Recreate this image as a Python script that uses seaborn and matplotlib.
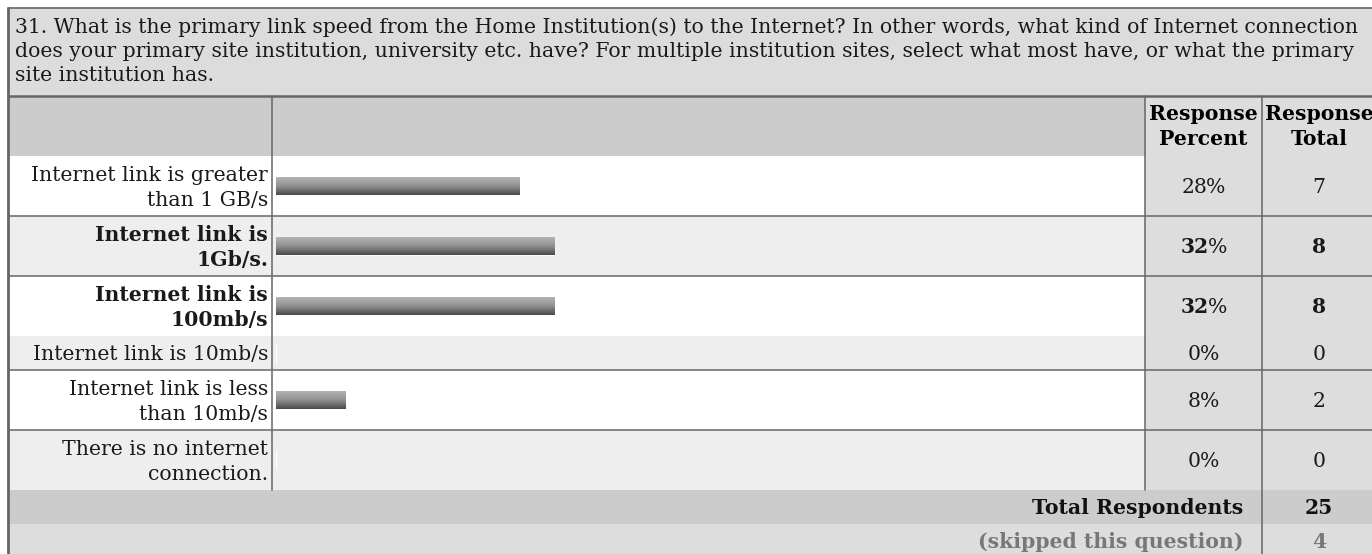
import numpy as np
import pandas as pd
import seaborn as sns
import matplotlib.pyplot as plt
from matplotlib.colors import LinearSegmentedColormap

# data
question = [
    "31. What is the primary link speed from the Home Institution(s) to the Internet? In other words, what kind of Internet connection",
    "does your primary site institution, university etc. have? For multiple institution sites, select what most have, or what the primary",
    "site institution has.",
]
answers = [
    ["Internet link is greater", "than 1 GB/s"],
    ["Internet link is", "1Gb/s."],
    ["Internet link is", "100mb/s"],
    ["Internet link is 10mb/s"],
    ["Internet link is less", "than 10mb/s"],
    ["There is no internet", "connection."],
]
percents = [28, 32, 32, 0, 8, 0]
totals = [7, 8, 8, 0, 2, 0]
bold_rows = [False, True, True, False, False, False]
answered = 25
skipped = 4

W, H = 1372, 554
sns.set_theme(style="white")
plt.rcParams["font.family"] = ["DejaVu Serif"]
FS = 14.7

fig = plt.figure(figsize=(W / 100, H / 100), dpi=100)
ax = fig.add_axes([0, 0, 1, 1])
ax.set_xlim(0, W)
ax.set_ylim(H, 0)
ax.axis("off")

LINE = "#666666"
TXT = "#1a1a1a"
left, top = 8, 8
title_bot = 96
head_bot = 156
col_bar0, col_pct, col_tot = 272, 1145, 1262
pct_c, tot_c = (col_pct + col_tot) / 2, 1319
lab_x = 268

# row layout from number of label lines
heights = [60 if len(a) == 2 else 34 for a in answers]
edges = head_bot + np.concatenate([[0], np.cumsum(heights)])
centers = (edges[:-1] + edges[1:]) / 2
rows_bot = edges[-1]
tot_bot = rows_bot + 34


def rect(x0, y0, x1, y1, color):
    ax.add_patch(plt.Rectangle((x0, y0), x1 - x0, y1 - y0, color=color, lw=0, zorder=0))


# backgrounds
rect(left, top, W, title_bot, "#dcdcdc")
rect(left, title_bot, col_pct, head_bot, "#cccccc")
rect(col_pct, title_bot, W, rows_bot, "#dddddd")
for i in range(len(answers)):
    rect(left, edges[i], col_pct, edges[i + 1], "#ffffff" if i % 2 == 0 else "#eeeeee")
rect(left, rows_bot, W, tot_bot, "#cccccc")
rect(left, tot_bot, W, H, "#dddddd")

# lines
ax.plot([left, W], [top, top], color=LINE, lw=1.2)
ax.plot([left, left], [top, H], color=LINE, lw=2)
ax.plot([left, W], [title_bot, title_bot], color=LINE, lw=1.8)
for x in (col_bar0, col_pct):
    ax.plot([x, x], [title_bot, rows_bot], color=LINE, lw=1.1)
ax.plot([col_tot, col_tot], [title_bot, H], color=LINE, lw=1.1)
for i in (0, 1, 3, 4):
    ax.plot([left, W], [edges[i + 1], edges[i + 1]], color=LINE, lw=1.1)

# title
for k, line in enumerate(question):
    ax.text(15, 33 + 24 * k, line, fontsize=FS, color=TXT, va="baseline", ha="left")


def lines_at(x, c, lines, **kw):
    n = len(lines)
    for k, s in enumerate(lines):
        y = c + 7 if n == 1 else c - 5 + 25 * k
        ax.text(x, y, s, fontsize=FS, va="baseline", **kw)


head_c = (title_bot + head_bot) / 2
lines_at(pct_c, head_c - 1, ["Response", "Percent"], ha="center", weight="bold", color="#000")
lines_at(tot_c, head_c - 1, ["Response", "Total"], ha="center", weight="bold", color="#000")

renderer = fig.canvas.get_renderer()


def width_of(s, weight):
    t = ax.text(0, 0, s, fontsize=FS, weight=weight)
    w = t.get_window_extent(renderer).width
    t.remove()
    return w


for i, lab in enumerate(answers):
    wt = "bold" if bold_rows[i] else "normal"
    lines_at(lab_x, centers[i], lab, ha="right", weight=wt, color=TXT)
    num = str(percents[i])
    wn, wp = width_of(num, wt), width_of("%", "normal")
    split = pct_c - (wn + wp) / 2 + wn
    ax.text(split + 0.5, centers[i] + 7, num, fontsize=FS, weight=wt, ha="right", va="baseline", color=TXT)
    ax.text(split - 0.5, centers[i] + 7, "%", fontsize=FS, ha="left", va="baseline", color=TXT)
    ax.text(tot_c, centers[i] + 7, str(totals[i]), fontsize=FS, weight=wt, ha="center",
            va="baseline", color=TXT)

tc = (rows_bot + tot_bot) / 2
sc = (tot_bot + H + 6) / 2
ax.text(1243, tc + 7, "Total Respondents", fontsize=FS, weight="bold", ha="right", va="baseline", color="#111")
ax.text(tot_c, tc + 7, str(answered), fontsize=FS, weight="bold", ha="center", va="baseline", color="#111")
ax.text(1243, sc + 6, "(skipped this question)", fontsize=FS, weight="bold", ha="right", va="baseline", color="#777777")
ax.text(tot_c, sc + 6, str(skipped), fontsize=FS, weight="bold", ha="center", va="baseline", color="#777777")

# bars
bx0, bx1 = 276, col_pct
bax = fig.add_axes([bx0 / W, 1 - rows_bot / H, (bx1 - bx0) / W, (rows_bot - head_bot) / H])
bax.patch.set_alpha(0)
df = pd.DataFrame({"answer": [" ".join(a) for a in answers], "percent": percents, "pos": centers})
bar_h = 18
sns.barplot(data=df, x="percent", y="pos", orient="y", native_scale=True,
            width=bar_h / np.diff(centers).min(), color="#777777", ax=bax)
cmap = LinearSegmentedColormap.from_list("bar", ["#b4b4b4", "#909090", "#4a4a4a"])
grad = np.linspace(0, 1, 64).reshape(-1, 1)
for p in list(bax.patches):
    if p.get_width() <= 0:
        continue
    x0, y0 = p.get_x(), p.get_y()
    im = bax.imshow(grad, cmap=cmap, aspect="auto", origin="upper",
                    extent=[x0, x0 + p.get_width(), y0 + p.get_height(), y0], zorder=3)
    im.set_clip_path(p)
bax.set_xlim(0, 100)
bax.set_ylim(rows_bot, head_bot)
bax.axis("off")

fig.savefig("out.png", dpi=100)
